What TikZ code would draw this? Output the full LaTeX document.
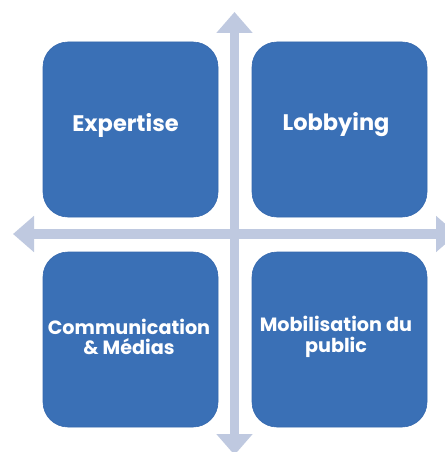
\documentclass[tikz,border=0pt]{standalone}
\usepackage{fontspec}
\setmainfont{Poppins}
\usetikzlibrary{arrows.meta}
\definecolor{boxblue}{HTML}{3A70B6}
\definecolor{boxedge}{HTML}{3568AE}
\definecolor{axisgray}{HTML}{BFC9E0}
\begin{document}
\begin{tikzpicture}[x=1pt,y=-1pt,
  quad/.style={draw=boxedge,line width=0.6pt,fill=boxblue,rounded corners=25pt,minimum width=175pt,minimum height=175pt,inner sep=0pt},
  lbl/.style={text=white,font=\fontsize{19.2}{20.5}\selectfont\bfseries,align=center},
  biglbl/.style={lbl,font=\fontsize{22.5}{24}\selectfont\bfseries},
  axis/.style={draw=axisgray,line width=9.5pt,{Triangle[length=21pt,width=35pt]}-{Triangle[length=21pt,width=35pt]}}]
\useasboundingbox (0,0) rectangle (444,452);
\fill[white] (0,0) rectangle (444,452);
\coordinate (top) at (234.5,12);
\coordinate (bot) at (234.5,455);
\coordinate (lft) at (13,234);
\coordinate (rgt) at (457,234);
\draw[axis] (bot) -- (top);
\draw[axis] (lft) -- (rgt);
\node[quad] (q1) at (130.5,129.5) {};
\node[quad] (q2) at (339.5,129.5) {};
\node[quad] (q3) at (130.5,339.5) {};
\node[quad] (q4) at (339.5,339.5) {};
\node[biglbl] (t1) at (125.5,125) {Expertise};
\node[biglbl] (t2) at (336,125) {Lobbying};
\node[lbl] (t3) at (129,337) {Communication\\\& Médias};
\node[lbl] (t4) at (336,337) {Mobilisation du\\public};
\end{tikzpicture}
\end{document}
